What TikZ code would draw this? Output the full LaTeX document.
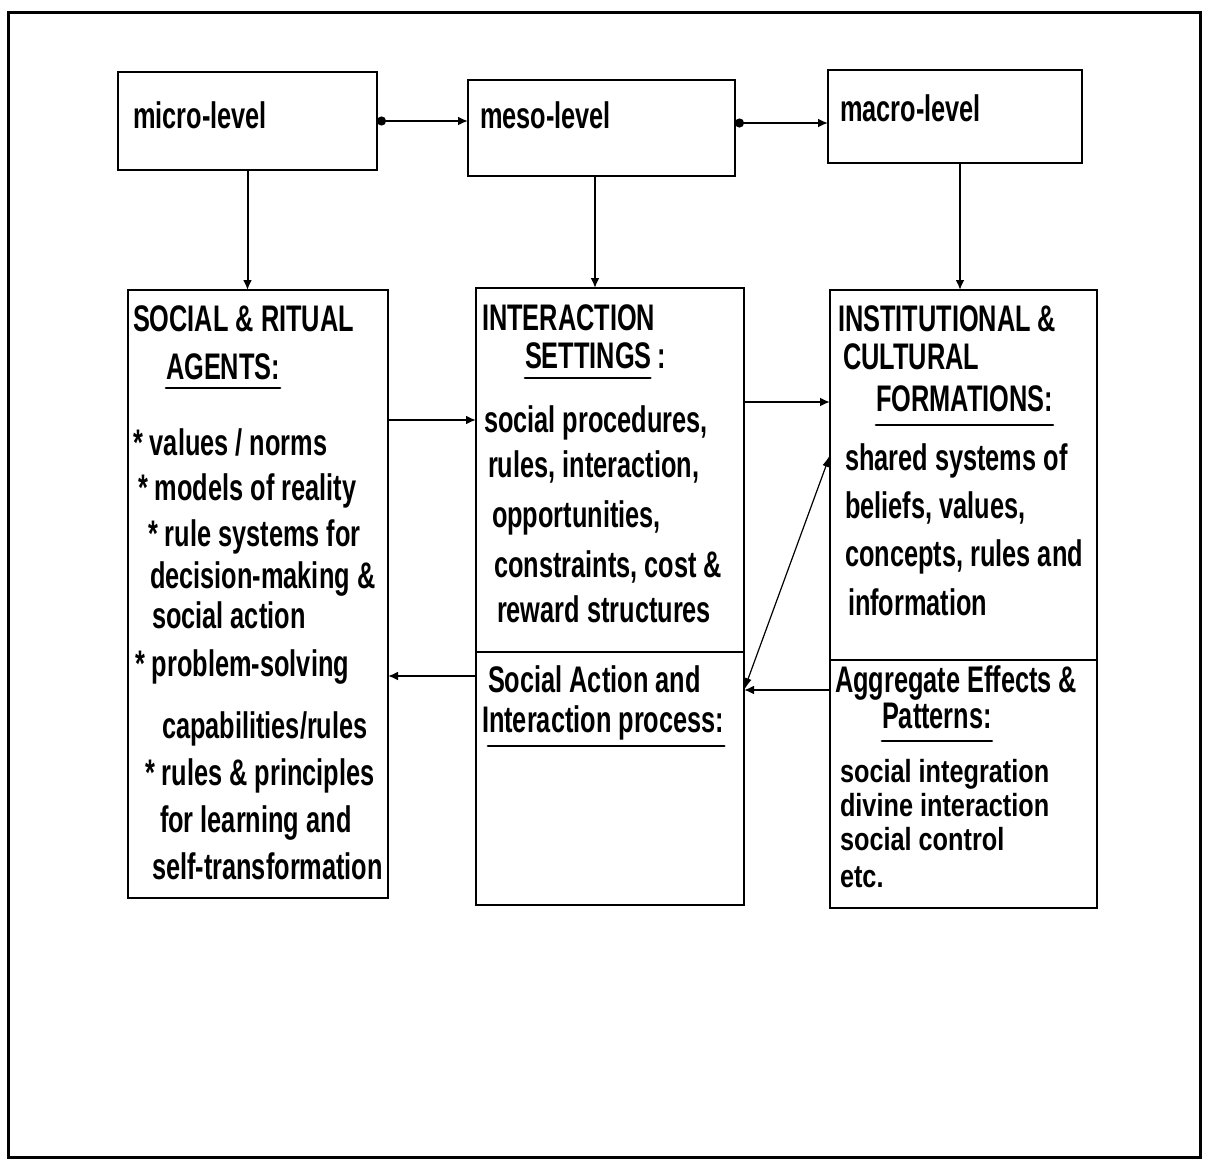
\documentclass[tikz,border=0pt]{standalone}
\usepackage{fontspec}
\newfontfamily\cond{Liberation Sans}[FakeStretch=0.685]
\newfontfamily\condw{Liberation Sans}[FakeStretch=0.79]
\usetikzlibrary{arrows.meta}
\begin{document}
\begin{tikzpicture}[x=0.5pt,y=-0.5pt,
 boxst/.style={draw, line width=1.3pt, inner sep=0pt, outer sep=0pt},
 txt/.style={anchor=base west, inner sep=0pt, outer sep=0pt, font=\cond\bfseries\fontsize{18.5}{22}\selectfont},
 txtsm/.style={anchor=base west, inner sep=0pt, outer sep=0pt, font=\condw\bfseries\fontsize{16}{19}\selectfont},
 conn/.style={line width=1pt, -{Latex[length=5pt,width=4.5pt]}},
 dotconn/.style={line width=1.2pt, {Circle[length=4.5pt]}-{Latex[length=5pt,width=4.5pt]}},
 uline/.style={line width=1.4pt, line cap=round},
 thinconn/.style={line width=0.6pt, {Latex[length=6pt,width=3.5pt]}-{Latex[length=6pt,width=3.5pt]}}
]
\useasboundingbox (0,0) rectangle (1220,1167);
\node[boxst, line width=1.5pt, minimum width=596pt, minimum height=572.5pt] (frame) at (604,584.5) {};

% level boxes
\node[boxst, minimum width=129.5pt, minimum height=49pt] (micro) at (247.5,121) {};
\node[boxst, minimum width=133.5pt, minimum height=48pt] (meso) at (601.5,128) {};
\node[boxst, minimum width=127pt, minimum height=46.5pt] (macro) at (955,116.5) {};
% main boxes
\node[boxst, minimum width=130pt, minimum height=304pt] (social) at (258,594) {};
\node[boxst, minimum width=134pt, minimum height=308.5pt] (inter) at (610,596.5) {};
\node[boxst, minimum width=133.5pt, minimum height=309pt] (inst) at (963.5,599) {};

\coordinate (dM) at (0,652);
\coordinate (dR) at (0,660);
\draw[line width=1.3pt] (inter.west |- dM) -- (inter.east |- dM);
\draw[line width=1.3pt] (inst.west |- dR) -- (inst.east |- dR);

% top texts
\node[txt] (t1) at (133,128) {micro-level};
\node[txt] (t2) at (480,128) {meso-level};
\node[txt] (t3) at (840,121) {macro-level};

% left box text
\node[txt] (s1) at (133,331) {SOCIAL \& RITUAL};
\node[txt] (s2) at (166,379) {AGENTS:};
\draw[uline] ([yshift=-4.5pt]s2.base west) -- ([yshift=-4.5pt]s2.base east);
\node[txt] (s3) at (133,455) {* values / norms};
\node[txt] (s4) at (138,500) {* models of reality};
\node[txt] (s5) at (148,546) {* rule systems for};
\node[txt] (s6) at (150,588) {decision-making \&};
\node[txt] (s7) at (152,628) {social action};
\node[txt] (s8) at (135,676) {* problem-solving};
\node[txt] (s9) at (162,738) {capabilities/rules};
\node[txt] (s10) at (145,785) {* rules \& principles};
\node[txt] (s11) at (160,832) {for learning and};
\node[txt] (s12) at (152,879) {self-transformation};

% middle box text
\node[txt] (m1) at (482,330) {INTERACTION};
\node[txt] (m2) at (525,368) {SETTINGS\,:};
\draw[uline] ([yshift=-5pt]m2.base west) -- ([xshift=-8pt,yshift=-5pt]m2.base east);
\node[txt] (m3) at (484,432) {social procedures,};
\node[txt] (m4) at (488,477) {rules, interaction,};
\node[txt] (m5) at (492,527) {opportunities,};
\node[txt] (m6) at (494,577) {constraints, cost \&};
\node[txt] (m7) at (497,622) {reward structures};
\node[txt] (m8) at (488,692) {Social Action and};
\node[txt] (m9) at (482,732) {Interaction process:};
\draw[uline] ([xshift=3pt,yshift=-7pt]m9.base west) -- ([yshift=-7pt]m9.base east);

% right box text
\node[txt] (r1) at (838,331) {INSTITUTIONAL \&};
\node[txt] (r2) at (843,369) {CULTURAL};
\node[txt] (r3) at (876,411) {FORMATIONS:};
\draw[uline] ([yshift=-7pt]r3.base west) -- ([yshift=-7pt]r3.base east);
\node[txt] (r4) at (845,470) {shared systems of};
\node[txt] (r5) at (845,518) {beliefs, values,};
\node[txt] (r6) at (845,566) {concepts, rules and};
\node[txt] (r7) at (848,615) {information};
\node[txt] (r8) at (835,692) {Aggregate Effects \&};
\node[txt] (r9) at (882,728) {Patterns:};
\draw[uline] ([yshift=-6.5pt]r9.base west) -- ([yshift=-6.5pt]r9.base east);
\node[txtsm] (r10) at (840,782) {social integration};
\node[txtsm] (r11) at (840,816) {divine interaction};
\node[txtsm] (r12) at (840,850) {social control};
\node[txtsm] (r13) at (840,887) {etc.};

% connectors
\draw[dotconn] (micro.east) -- (micro.east -| meso.west);
\draw[dotconn] ([yshift=2.5pt]meso.east) -- ([yshift=2.5pt]meso.east -| macro.west);
\draw[conn] (micro.south) -- (micro.south |- social.north);
\draw[conn] ([xshift=-3.25pt]meso.south) -- ([xshift=-3.25pt]meso.south |- inter.north);
\draw[conn] ([xshift=2.5pt]macro.south) -- ([xshift=2.5pt]macro.south |- inst.north);

\coordinate (ya) at (0,420);
\coordinate (yb) at (0,402);
\coordinate (yc) at (0,676);
\coordinate (yd) at (0,690);
\coordinate (ye) at (0,455);
\draw[conn, line width=1.2pt] (social.east |- ya) -- (inter.west |- ya);
\draw[conn, line width=1.2pt] (inter.east |- yb) -- (inst.west |- yb);
\draw[conn, line width=1.2pt] (inter.west |- yc) -- (social.east |- yc);
\draw[conn, line width=1.2pt] (inst.west |- yd) -- (inter.east |- yd);
\draw[thinconn] (inter.east |- yd) -- (inst.west |- ye);
\end{tikzpicture}
\end{document}
